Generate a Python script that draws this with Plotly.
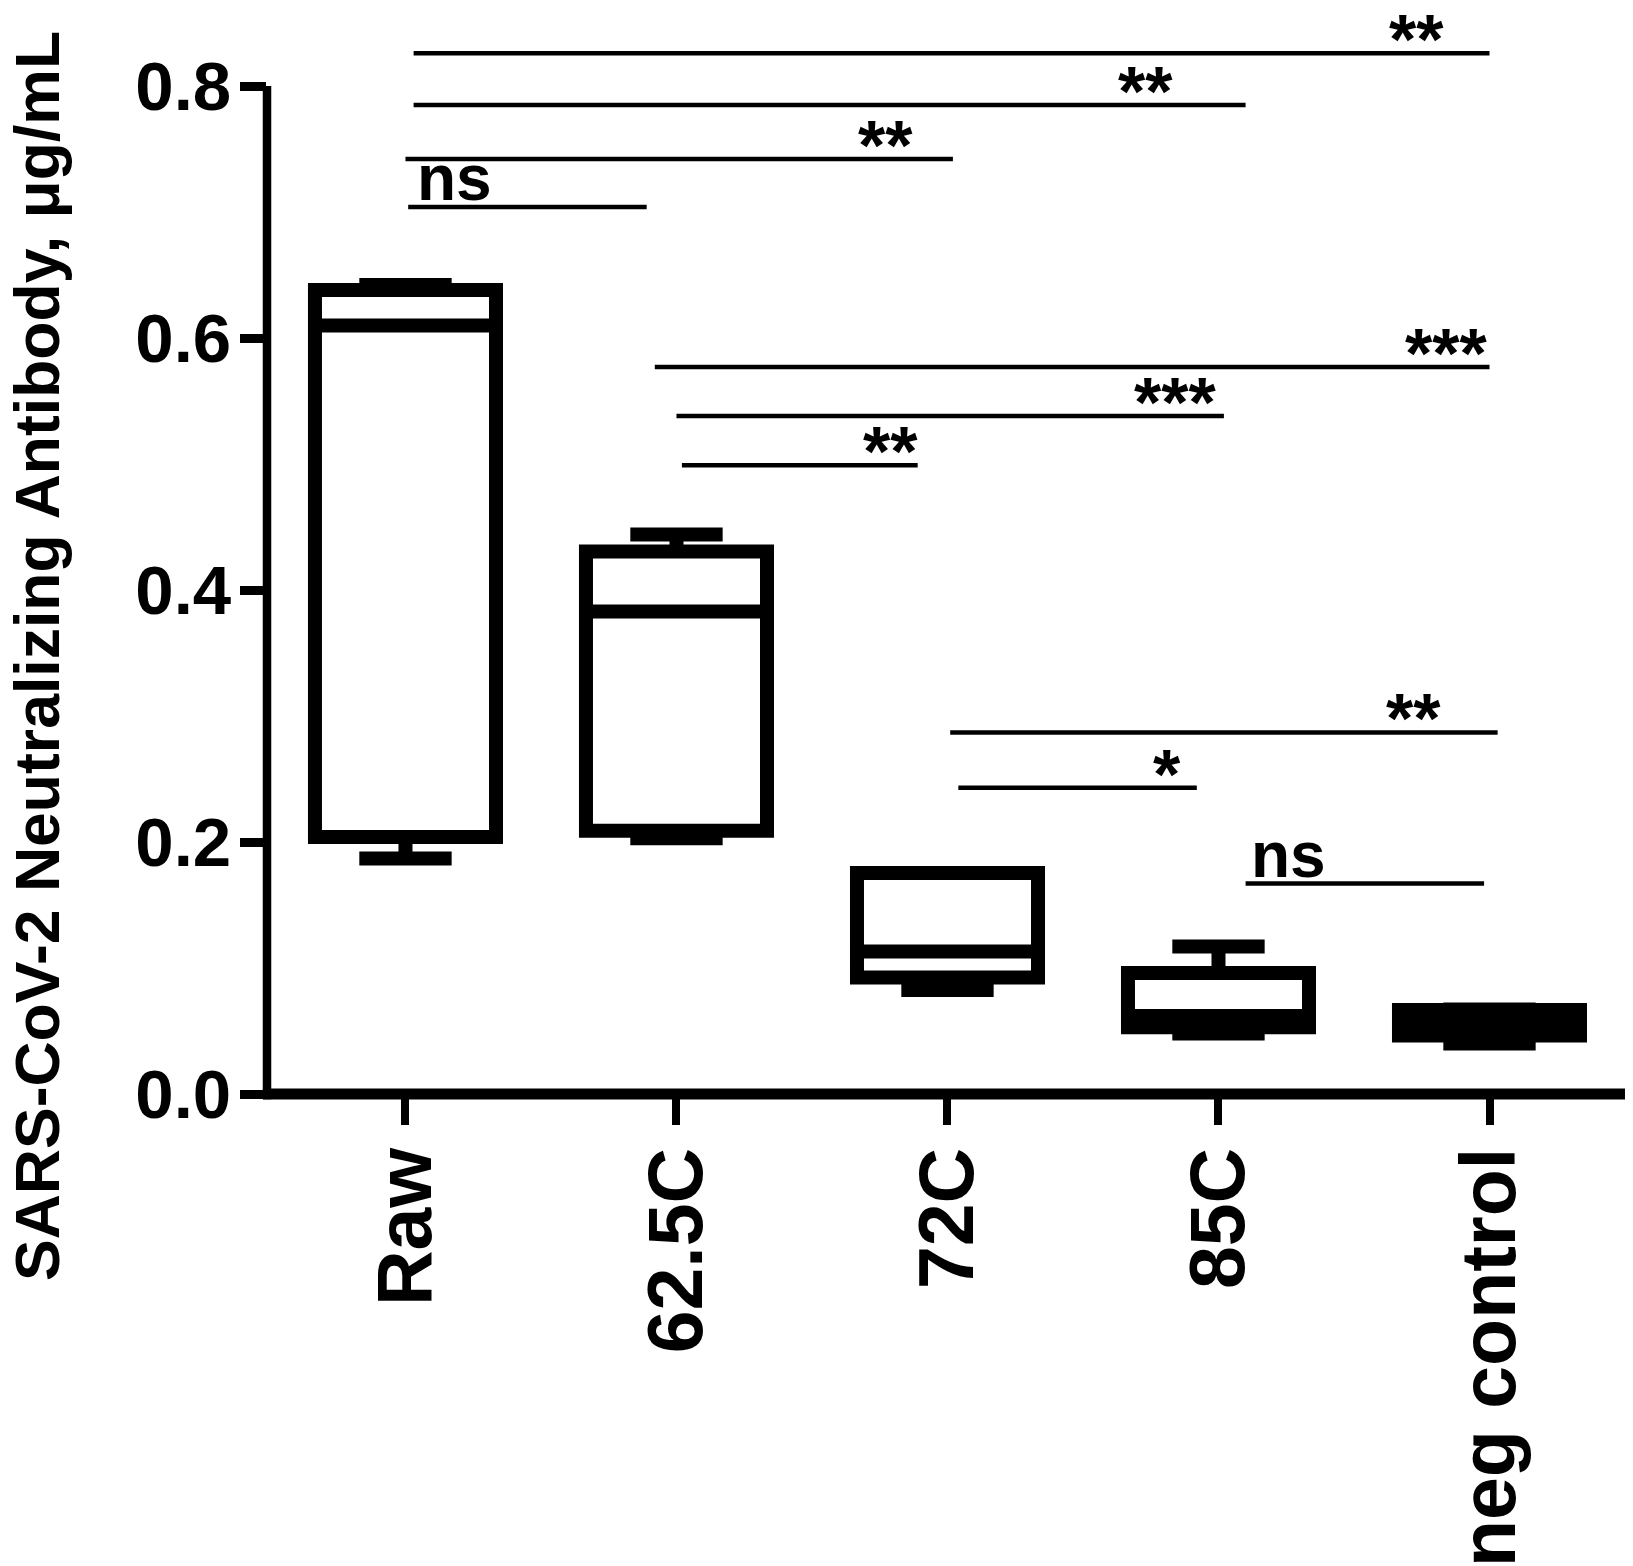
import plotly.graph_objects as go

# ---- data ----
categories = ["Raw", "62.5C", "72C", "85C", "neg control"]
lower_whisker = [0.187, 0.203, 0.0825, 0.048, 0.040]
q1 = [0.204, 0.209, 0.0925, 0.053, 0.0464]
median = [0.610, 0.383, 0.113, 0.062, 0.0565]
q3 = [0.638, 0.4306, 0.1754, 0.096, 0.0667]
upper_whisker = [0.642, 0.444, 0.1754, 0.117, 0.0670]

y_ticks = [0.0, 0.2, 0.4, 0.6, 0.8]
y_tick_labels = ["0.0", "0.2", "0.4", "0.6", "0.8"]
y_axis_top = 0.8
y_range = [0, 0.85]
x_range = [-0.511, 4.5]

# significance comparisons (start group index, end group index, bar level, label)
sig_start = [0.03, 0.03, 0.0, 0.01, 0.92, 1.0, 1.02, 2.01, 2.04, 3.10]
sig_end = [4.0, 3.10, 2.02, 0.89, 4.0, 3.02, 1.89, 4.03, 2.92, 3.98]
sig_level = [0.826, 0.785, 0.742, 0.704, 0.577, 0.538, 0.499, 0.287, 0.243, 0.167]
sig_label = ["**", "**", "**", "ns", "***", "***", "**", "**", "*", "ns"]
sig_label_pos = [3.73, 2.73, 1.77, 0.18, 3.84, 2.84, 1.79, 3.72, 2.81, 3.26]

y_title = "SARS-CoV-2 Neutralizing Antibody, μg/mL"
y_title_start = -0.150  # value level where the rotated title begins

FONT = "Liberation Sans, Arial, sans-serif"

fig = go.Figure()
fig.add_trace(go.Box(
    x=categories,
    q1=q1, median=median, q3=q3,
    lowerfence=lower_whisker, upperfence=upper_whisker,
    width=0.668,
    whiskerwidth=0.51,
    line=dict(color="black", width=14),
    fillcolor="white",
    boxpoints=False,
    showlegend=False,
    hoverinfo="skip",
))

shapes = []
# axis lines
shapes.append(dict(type="line", xref="paper", yref="paper",
                   x0=0, x1=0, y0=-0.005, y1=y_axis_top / y_range[1],
                   line=dict(color="black", width=8.5)))
shapes.append(dict(type="line", xref="paper", yref="paper",
                   x0=-0.003, x1=1, y0=0, y1=0,
                   line=dict(color="black", width=11)))
annotations = []
for xs, xe, lv, lb, lp in zip(sig_start, sig_end, sig_level, sig_label, sig_label_pos):
    shapes.append(dict(type="line", xref="x", yref="y", x0=xs, x1=xe, y0=lv, y1=lv,
                       line=dict(color="black", width=4.5)))
    if lb == "ns":
        annotations.append(dict(x=lp, y=lv, xref="x", yref="y", text=lb, showarrow=False,
                                xanchor="center", yanchor="bottom", yshift=-9,
                                font=dict(family=FONT, size=64, color="black", weight="bold")))
    else:
        annotations.append(dict(x=lp, y=lv, xref="x", yref="y", text=lb, showarrow=False,
                                xanchor="center", yanchor="bottom", yshift=-28,
                                font=dict(family=FONT, size=70, color="black", weight="bold")))

annotations.append(dict(text=y_title, xref="paper", yref="paper", x=0,
                        y=y_title_start / y_range[1],
                        xanchor="center", yanchor="bottom", xshift=-230, textangle=-90,
                        showarrow=False,
                        font=dict(family=FONT, size=62.5, color="black", weight="bold")))

# the page body adds an 8px offset; the figure is sized to fill the remaining window
fig.update_layout(
    width=1625, height=1558,
    margin=dict(l=259, r=8, t=15, b=472),
    paper_bgcolor="white", plot_bgcolor="white",
    shapes=shapes, annotations=annotations,
    xaxis=dict(
        type="category", categoryorder="array", categoryarray=categories,
        range=x_range, automargin=False,
        showline=False,
        ticks="outside", ticklen=30, tickwidth=8, tickcolor="black",
        tickangle=-90, showgrid=False, zeroline=False,
        ticklabelstandoff=-8,
        tickfont=dict(family=FONT, size=77, color="black", weight="bold"),
    ),
    yaxis=dict(
        range=y_range, tickvals=y_ticks, ticktext=y_tick_labels, automargin=False,
        showline=False, ticks="outside", ticklen=26, tickwidth=9, tickcolor="black",
        showgrid=False, zeroline=False,
        ticklabelstandoff=-5,
        tickfont=dict(family=FONT, size=69, color="black", weight="bold"),
    ),
)

fig.write_html("out.html")
